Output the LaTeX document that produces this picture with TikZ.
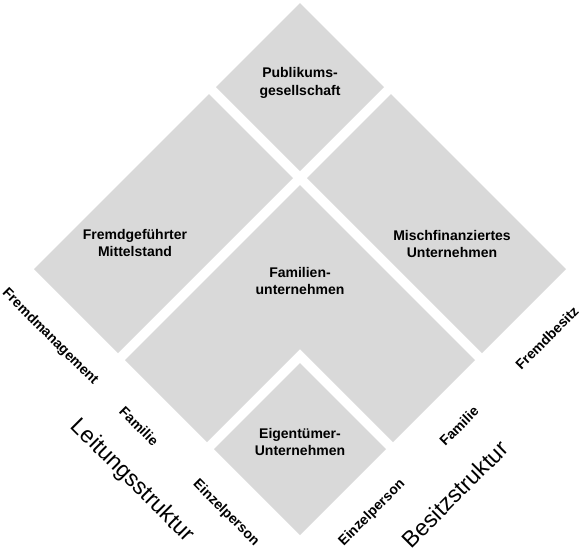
\documentclass[tikz,border=0pt]{standalone}
\usepackage{fontspec}
\setmainfont{Liberation Sans}
\definecolor{feldgrau}{HTML}{D9D9D9}

\begin{document}
\begin{tikzpicture}[
    feld/.style={fill=feldgrau},
    lbl/.style={font=\bfseries\fontsize{14}{17.5}\selectfont, align=center, inner sep=0pt},
    achse/.style={font=\fontsize{23}{26}\selectfont, inner sep=0pt}
]
    \path[use as bounding box] (0pt,0pt) rectangle (581pt,-550pt);
    \begin{scope}[shift={(300pt,-535pt)}, x={(1pt,1pt)}, y={(-1pt,1pt)}]
        \foreach \a/\b/\c/\d in {0/0/86/86, 182/0/266/175, 0/182/175/266, 182/182/266/266} {
            \fill[feld] (\a,\b) -- (\c,\b) -- (\c,\d) -- (\a,\d) -- cycle;
        }
        \fill[feld] (93,0) -- (175,0) -- (175,175) -- (0,175) -- (0,93) -- (93,93) -- cycle;

        \node[lbl] (publ)  at (226,226)     {Publikums-\\gesellschaft};
        \node[lbl] (fremd) at (63.5,228.5)  {Fremdgeführter\\Mittelstand};
        \node[lbl] (misch) at (221.5,69.5)  {Mischfinanziertes\\Unternehmen};
        \node[lbl] (fam)   at (127,127)     {Familien-\\unternehmen};
        \node[lbl] (eig)   at (46.5,46.5)   {Eigentümer-\\Unternehmen};

        \node[lbl, rotate=-45] (einzL)  at (-26,48)  {Einzelperson};
        \node[lbl, rotate=-45] (famL)   at (-26,135) {Familie};
        \node[lbl, rotate=-45] (fremdL) at (-26,224) {Fremdmanagement};
        \node[lbl, rotate=45]  (einzR)  at (47,-25)  {Einzelperson};
        \node[lbl, rotate=45]  (famR)   at (134,-25) {Familie};
        \node[lbl, rotate=45]  (fremdR) at (222,-25) {Fremdbesitz};

        \node[achse, rotate=-45] (leit)   at (-57,111) {Leitungsstruktur};
        \node[achse, rotate=45]  (besitz) at (98,-57)  {Besitzstruktur};
    \end{scope}
\end{tikzpicture}
\end{document}
